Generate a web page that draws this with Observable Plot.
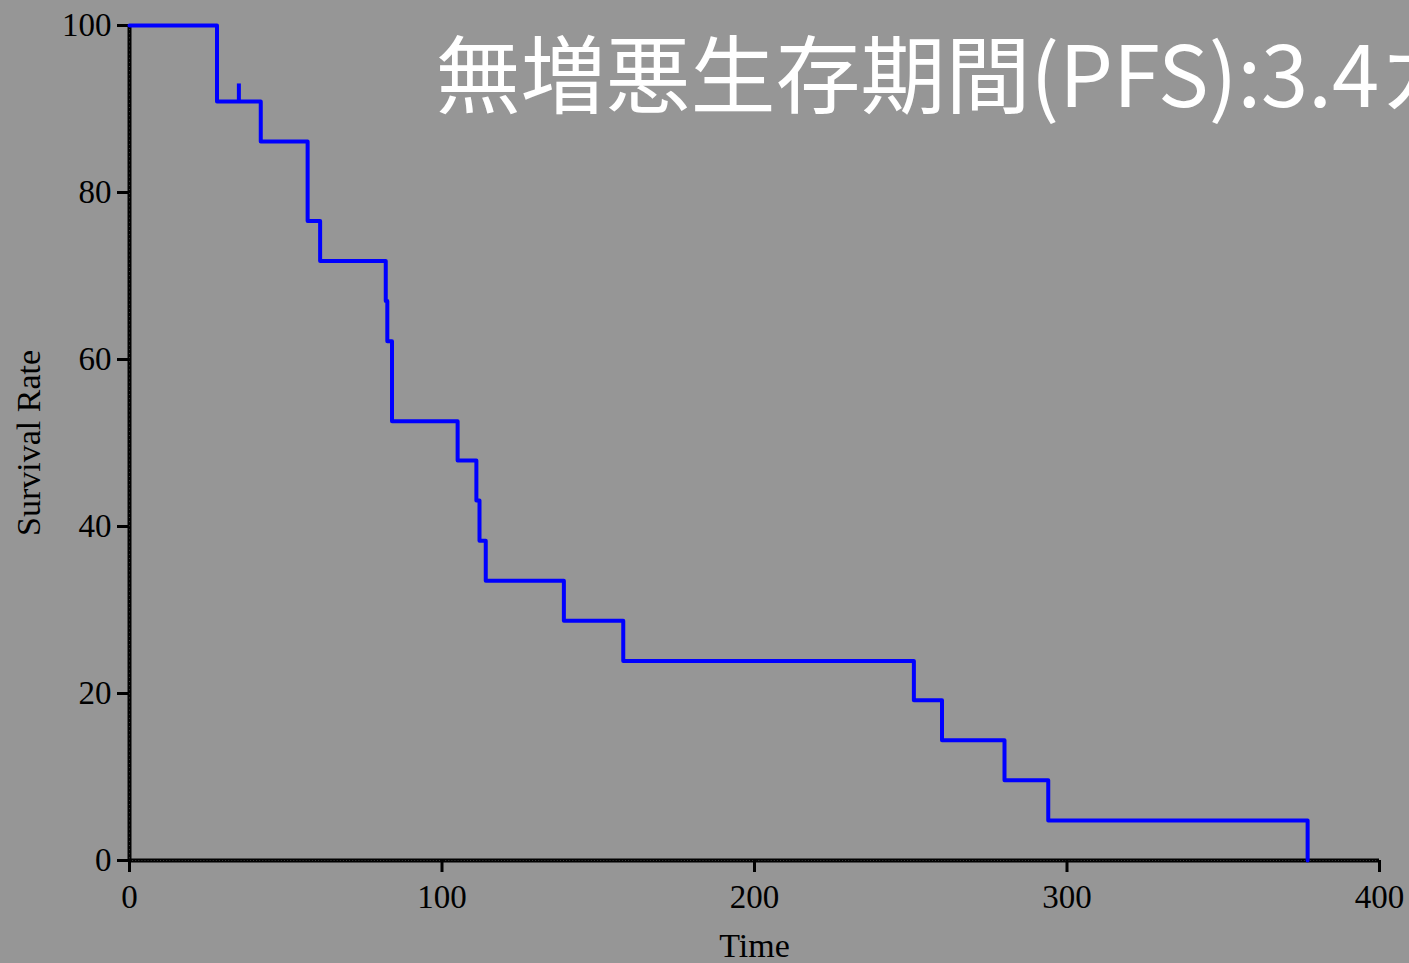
<!DOCTYPE html>
<html>
<head>
<meta charset="utf-8">
<script src="https://cdn.jsdelivr.net/npm/d3@7"></script>
<script src="https://cdn.jsdelivr.net/npm/@observablehq/plot@0.6"></script>
<style>
  html, body { margin: 0; padding: 0; overflow: hidden; background: #969696; }
</style>
</head>
<body>
<div id="chart"></div>
<script>
// Kaplan-Meier step points (time, survival %)
const times    = [0, 28, 42, 57, 61, 82, 82.5, 84, 105, 111, 112, 114, 139, 158, 251, 260, 280, 294, 377];
const survival = [100, 90.9, 86.1, 76.6, 71.8, 67.0, 62.2, 52.6, 47.9, 43.1, 38.3, 33.5, 28.7, 23.9, 19.2, 14.4, 9.6, 4.8, 0];
// censored observations
const censorTimes = [35];
const censorSurv  = [90.9];
// ticks
const xTicks = [0, 100, 200, 300, 400];
const yTicks = [0, 20, 40, 60, 80, 100];
const titleText = "無増悪生存期間(PFS):3.4カ月";
const xLabel = "Time";
const yLabel = "Survival Rate";

const km = times.map((t, i) => ({time: t, surv: survival[i]}));
const censors = censorTimes.map((t, i) => ({time: t, surv: censorSurv[i]}));

const chart = Plot.plot({
  width: 1409,
  height: 963,
  marginLeft: 129,
  marginRight: 30,
  marginTop: 25,
  marginBottom: 103,
  style: {background: "#969696", fontFamily: "Liberation Serif", fontSize: "33px", color: "black"},
  x: {domain: [0, 400]},
  y: {domain: [0, 100]},
  marks: [
    Plot.ruleY([0], {stroke: "black", strokeWidth: 4}),
    Plot.ruleX([0], {stroke: "black", strokeWidth: 4}),
    Plot.ruleY([0], {stroke: "#3c3c3c", strokeWidth: 1, strokeDasharray: "1,2.1"}),
    Plot.ruleX([0], {stroke: "#3c3c3c", strokeWidth: 1, strokeDasharray: "1,3.1"}),
    Plot.axisX({ticks: xTicks, tickSize: 12, tickPadding: 12, strokeWidth: 3, label: null, fontSize: 33, tickFormat: d => String(d)}),
    Plot.axisY({ticks: yTicks, tickSize: 12, tickPadding: 6, strokeWidth: 3, label: null, fontSize: 33, tickFormat: d => String(d)}),
    Plot.line(km, {x: "time", y: "surv", curve: "step-after", stroke: "#0000ff", strokeWidth: 4}),
    Plot.ruleX(censors, {x: "time", y1: "surv", y2: d => d.surv + 2.1, stroke: "#0000ff", strokeWidth: 4}),
    Plot.text([xLabel], {text: d => d, frameAnchor: "bottom", lineAnchor: "middle", dy: 86, fontSize: 34, fill: "black"}),
    Plot.text([yLabel], {text: d => d, frameAnchor: "left", textAnchor: "middle", lineAnchor: "middle", rotate: -90, dx: -100, fontSize: 34, fill: "black"}),
    Plot.text([titleText], {text: d => d, frameAnchor: "top-left", textAnchor: "start", lineAnchor: "top", dx: 306, dy: 21, fontSize: 85, fill: "white", fontFamily: "Noto Sans CJK JP"})
  ]
});
document.getElementById("chart").appendChild(chart);
</script>
</body>
</html>
